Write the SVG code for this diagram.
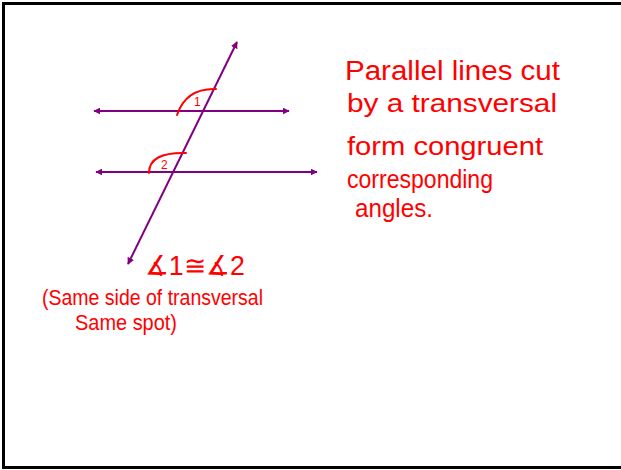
<svg xmlns="http://www.w3.org/2000/svg" width="621" height="470" viewBox="0 0 621 470">
  <defs>
    <marker id="arr" viewBox="0 0 10 10" refX="9" refY="5" markerWidth="7" markerHeight="7" markerUnits="userSpaceOnUse" orient="auto-start-reverse">
      <path d="M0,0 L10,5 L0,10 z" fill="#800080"/>
    </marker>
    <style>
      .ln { stroke:#800080; stroke-width:2; fill:none; marker-start:url(#arr); marker-end:url(#arr); }
      .arc { stroke:#ff0000; stroke-width:2; fill:none; stroke-linecap:round; }
      .hw { fill:#ff0000; font-family:"Liberation Sans", Arial, sans-serif; }
    </style>
  </defs>
  <rect x="0" y="0" width="621" height="470" fill="#ffffff"/>
  <rect x="3.5" y="3.5" width="630" height="464" fill="none" stroke="#000000" stroke-width="3"/>

  <g id="connectors">
    <line id="line-top" class="ln" x1="94" y1="111" x2="289" y2="111"/>
    <line id="line-bottom" class="ln" x1="96" y1="172" x2="317" y2="172"/>
    <line id="transversal" class="ln" x1="128" y1="264" x2="237" y2="42"/>
  </g>

  <g id="angle1">
    <path class="arc" d="M177,115 Q186,88 216,89"/>
    <text class="hw" x="194" y="106" font-size="12">1</text>
  </g>
  <g id="angle2">
    <path class="arc" d="M149,173 Q149,152 186,153"/>
    <text class="hw" x="161" y="169" font-size="12">2</text>
  </g>

  <g id="statement">
    <text class="hw" x="345" y="80" font-size="27" textLength="215" lengthAdjust="spacingAndGlyphs">Parallel lines cut</text>
    <text class="hw" x="347" y="112" font-size="26" textLength="210" lengthAdjust="spacingAndGlyphs">by a transversal</text>
    <text class="hw" x="347" y="155" font-size="26" textLength="196" lengthAdjust="spacingAndGlyphs">form congruent</text>
    <text class="hw" x="347" y="188" font-size="26" textLength="146" lengthAdjust="spacingAndGlyphs">corresponding</text>
    <text class="hw" x="355" y="217" font-size="26" textLength="78" lengthAdjust="spacingAndGlyphs">angles.</text>
  </g>

  <g id="congruence">
    <text class="hw" x="145" y="275" font-size="27" textLength="100" lengthAdjust="spacingAndGlyphs">∡1≅∡2</text>
    <text class="hw" x="42" y="305" font-size="22" textLength="221" lengthAdjust="spacingAndGlyphs">(Same side of transversal</text>
    <text class="hw" x="75" y="330" font-size="22" textLength="102" lengthAdjust="spacingAndGlyphs">Same spot)</text>
  </g>
</svg>
